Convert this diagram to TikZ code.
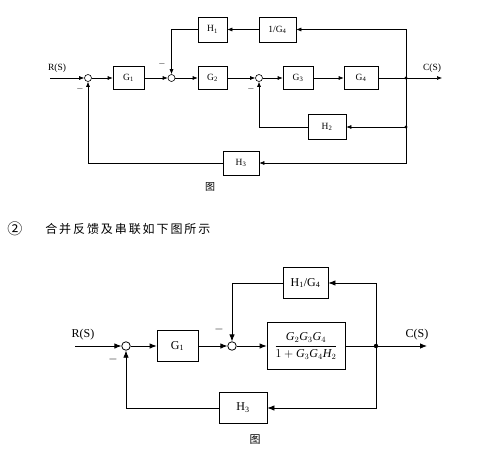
\documentclass[tikz,border=0pt]{standalone}
\usepackage{amsmath}
\usepackage{fontspec}
\setmainfont{Liberation Serif}
\newfontfamily\cjk{Noto Sans CJK SC}
\newfontfamily\cjkesp[LetterSpace=16]{Noto Sans CJK SC}
\usetikzlibrary{arrows.meta}

\begin{document}
\begin{tikzpicture}[x=1pt,y=-1pt,line width=0.6pt,
    blk/.style={draw,rectangle,inner sep=0pt,font=\fontsize{9.5}{11}\selectfont},
    blkb/.style={draw,rectangle,inner sep=0pt,line width=0.8pt,font=\fontsize{12}{14}\selectfont},
    sumnode/.style={draw,circle,minimum size=7pt,inner sep=0pt},
    sumnodeb/.style={draw,circle,minimum size=8.5pt,inner sep=0pt,line width=0.8pt},
    lbl/.style={inner sep=0pt,font=\fontsize{9.5}{11}\selectfont},
    lblb/.style={inner sep=0pt,font=\fontsize{12}{14}\selectfont},
    flecha/.style={-{Latex[length=5pt,width=4pt]}},
    flechab/.style={-{Latex[length=7pt,width=5.5pt]},line width=0.8pt}]
  \useasboundingbox (0,0) rectangle (477,455);
  % primer diagrama: camino directo
  \coordinate (in) at (50,78);
  \node[lbl] (r) at (57,68) {R(S)};
  \node[sumnode] (s1) at (88,78) {};
  \node[blk,minimum width=31pt,minimum height=23pt] (g1) at (128.5,78) {G\textsubscript{1}};
  \node[sumnode] (s2) at (171.5,78) {};
  \node[blk,minimum width=29pt,minimum height=23pt] (g2) at (212.5,78) {G\textsubscript{2}};
  \node[sumnode] (s3) at (259,78) {};
  \node[blk,minimum width=30pt,minimum height=23pt] (g3) at (298,78) {G\textsubscript{3}};
  \node[blk,minimum width=34pt,minimum height=23pt] (g4) at (361,78) {G\textsubscript{4}};
  \coordinate (b1) at (406,78);
  \coordinate (out) at (442,78);
  \node[lbl] (c) at (432,68) {C(S)};
  % lazos de realimentacion
  \node[blk,minimum width=29pt,minimum height=25pt] (h1) at (212.5,29.5) {H\textsubscript{1}};
  \node[blk,minimum width=37pt,minimum height=25pt] (g4inv) at (277.5,29.5) {1/G\textsubscript{4}};
  \node[blk,minimum width=38pt,minimum height=25pt] (h2) at (327,127) {H\textsubscript{2}};
  \node[blk,minimum width=36pt,minimum height=24pt] (h3) at (241,163) {H\textsubscript{3}};
  \coordinate (b2) at (406,127);
  \node[lbl] (m1) at (80,89) {$-$};
  \node[lbl] (m2) at (162,64) {$-$};
  \node[lbl] (m3) at (251,89) {$-$};
  \node[inner sep=0pt,font=\cjk\fontsize{10}{12}\selectfont] (fig1) at (210,187) {图};
  % flechas
  \draw[flecha] (in) -- (s1);
  \draw[flecha] (s1) -- (g1);
  \draw[flecha] (g1) -- (s2);
  \draw[flecha] (s2) -- (g2);
  \draw[flecha] (g2) -- (s3);
  \draw[flecha] (s3) -- (g3);
  \draw[flecha] (g3) -- (g4);
  \draw (g4) -- (b1);
  \draw[flecha] (b1) -- (out);
  \draw[flecha] (b1) |- (g4inv);
  \draw[flecha] (g4inv) -- (h1);
  \draw[flecha] (h1) -| (s2);
  \draw (b1) -- (b2);
  \draw[flecha] (b2) -- (h2);
  \draw[flecha] (h2) -| (s3);
  \draw[flecha] (b2) |- (h3);
  \draw[flecha] (h3) -| (s1);
  \fill (b1) circle (1.7pt);
  \fill (b2) circle (1.7pt);

  % texto intermedio
  \node[inner sep=0pt,font=\cjk\fontsize{15}{17}\selectfont] (num) at (15,229) {②};
  \node[anchor=west,inner sep=0pt,font=\cjkesp\fontsize{12}{14}\selectfont] (txt) at (45,229) {合并反馈及串联如下图所示};

  % segundo diagrama
  \coordinate (inb) at (75,346);
  \node[lblb] (rb) at (83,335) {R(S)};
  \node[sumnodeb] (s1b) at (126,346) {};
  \node[blkb,minimum width=41pt,minimum height=31pt] (g1b) at (177.5,346) {G\textsubscript{1}};
  \node[sumnodeb] (s2b) at (232,346) {};
  \node[blkb,minimum width=78pt,minimum height=47pt,font=\fontsize{12}{14}\selectfont] (gb) at (306,346)
    {$\dfrac{\textit{G}_2\textit{G}_3\textit{G}_4}{1+\textit{G}_3\textit{G}_4\textit{H}_2}$};
  \coordinate (bb) at (376,346);
  \coordinate (outb) at (427,346);
  \node[lblb] (cb) at (417,335) {C(S)};
  \node[blkb,minimum width=45pt,minimum height=31pt] (h1g4) at (305.5,283) {H\textsubscript{1}/G\textsubscript{4}};
  \node[blkb,minimum width=48pt,minimum height=31pt] (h3b) at (243,408) {H\textsubscript{3}};
  \node[lblb] (m1b) at (113,359) {$-$};
  \node[lblb] (m2b) at (219,329) {$-$};
  \node[inner sep=0pt,font=\cjk\fontsize{11}{13}\selectfont] (fig2) at (255,440) {图};
  \draw[flechab] (inb) -- (s1b);
  \draw[flechab] (s1b) -- (g1b);
  \draw[flechab] (g1b) -- (s2b);
  \draw[flechab] (s2b) -- (gb);
  \draw[line width=0.8pt] (gb) -- (bb);
  \draw[flechab] (bb) -- (outb);
  \draw[flechab] (bb) |- (h1g4);
  \draw[flechab] (h1g4) -| (s2b);
  \draw[flechab] (bb) |- (h3b);
  \draw[flechab] (h3b) -| (s1b);
  \fill (bb) circle (2.2pt);
\end{tikzpicture}
\end{document}
